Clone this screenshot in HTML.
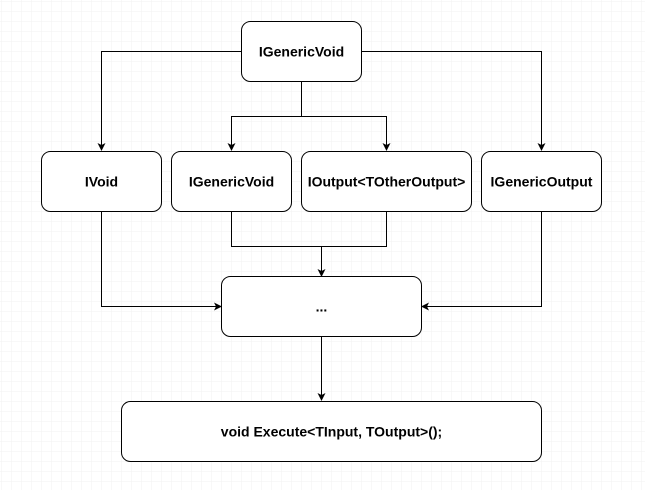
<!DOCTYPE html>
<html><head><style>
body{margin:0;background:#fff}
svg{display:block}
text{font-family:"Liberation Sans",Arial,sans-serif;font-size:14px;font-weight:bold;fill:#000}
</style></head><body>
<svg width="645" height="490" viewBox="0 0 645 490" xmlns="http://www.w3.org/2000/svg">
<defs>
<pattern id="minor" width="10" height="10" patternUnits="userSpaceOnUse" x="2" y="2">
<path d="M10 0V10M0 10H10" stroke="#f2f2f2" stroke-width="1" fill="none"/>
</pattern>
<pattern id="major" width="40" height="40" patternUnits="userSpaceOnUse" x="-8" y="2">
<path d="M40.5 0V40M0 40.5H40" stroke="#e4e4e4" stroke-width="1" fill="none"/>
</pattern>
<marker id="a" markerWidth="8" markerHeight="8" refX="7" refY="4" orient="auto" markerUnits="userSpaceOnUse">
<path d="M0,0L8,4L0,8L2,4z" fill="#000"/>
</marker>
</defs>
<rect width="645" height="490" fill="url(#minor)"/>
<rect width="645" height="490" fill="url(#major)"/>
<g stroke="#000" stroke-width="1" fill="none">
<path d="M242.5 51.5H101.5V150" marker-end="url(#a)"/>
<path d="M361.5 51.5H541.5V150" marker-end="url(#a)"/>
<path d="M301.5 81.5V116.5H231.5V150" marker-end="url(#a)"/>
<path d="M301.5 116.5H386.5V150" marker-end="url(#a)"/>
<path d="M231.5 211.5V246.5H386.5V211.5"/>
<path d="M321.5 246.5V276" marker-end="url(#a)"/>
<path d="M101.5 211.5V306.5H221" marker-end="url(#a)"/>
<path d="M541.5 211.5V306.5H422" marker-end="url(#a)"/>
<path d="M321.5 336.5V400" marker-end="url(#a)"/>
</g>
<g stroke="#000" stroke-width="1" fill="#fff">
<rect x="241.5" y="21.5" width="120" height="60" rx="9"/>
<rect x="41.5" y="151.5" width="120" height="60" rx="9"/>
<rect x="171.5" y="151.5" width="120" height="60" rx="9"/>
<rect x="301.5" y="151.5" width="170" height="60" rx="9"/>
<rect x="481.5" y="151.5" width="120" height="60" rx="9"/>
<rect x="221.5" y="276.5" width="200" height="60" rx="9"/>
<rect x="121.5" y="401.5" width="420" height="60" rx="9"/>
</g>
<g text-anchor="middle">
<text x="301.5" y="56.5">IGenericVoid</text>
<text x="101.5" y="186.5">IVoid</text>
<text x="231.5" y="186.5">IGenericVoid</text>
<text x="386.5" y="186.5">IOutput&lt;TOtherOutput&gt;</text>
<text x="541.5" y="186.5">IGenericOutput</text>
<text x="321.5" y="311.5">...</text>
<text x="331.5" y="436.5">void Execute&lt;TInput, TOutput&gt;();</text>
</g>
</svg>
</body></html>
